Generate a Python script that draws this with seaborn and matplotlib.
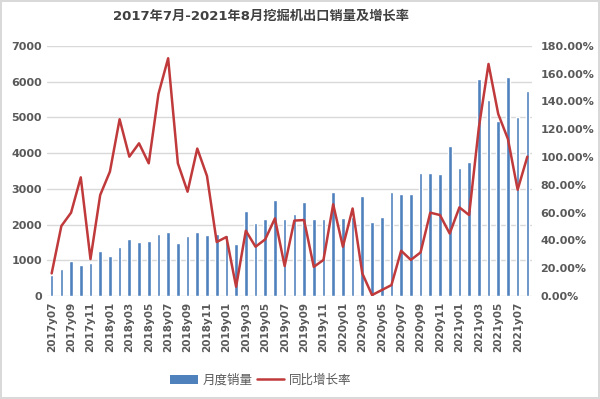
import matplotlib
matplotlib.use('Agg')
import matplotlib.pyplot as plt
import matplotlib.ticker as mtick
from matplotlib.patches import Patch
from matplotlib.lines import Line2D
import numpy as np
import pandas as pd
import seaborn as sns

# Months 2017-07 .. 2021-08
months = [p.strftime('%Yy%m') for p in pd.period_range('2017-07', '2021-08', freq='M')]

# Monthly export sales (units)
sales = [600, 760, 970, 860, 920, 1270, 1120, 1380, 1610, 1510,
         1530, 1730, 1790, 1480, 1680, 1790, 1720, 1740, 1700, 1460,
         2370, 2040, 2150, 2690, 2150, 2290, 2620, 2150, 2150, 2910,
         2180, 2200, 2790, 2060, 2210, 2900, 2860, 2860, 3440, 3440,
         3410, 4210, 3580, 3750, 6060, 5480, 4900, 6130, 5010, 5730]

# Year-on-year growth (%)
growth = [16.3, 50.4, 60.0, 85.4, 26.6, 72.7, 89.5, 127.2, 100.3, 109.9,
          95.5, 145.4, 171.1, 95.5, 75.1, 106.1, 86.4, 38.9, 42.5, 6.7,
          47.0, 35.5, 40.8, 55.9, 21.6, 54.3, 54.7, 21.0, 26.0, 66.0,
          35.5, 63.0, 16.3, 0.7, 4.3, 7.9, 32.6, 26.0, 31.4, 60.0,
          58.3, 45.0, 63.8, 58.3, 121.0, 167.0, 131.0, 113.0, 76.5, 100.3]

df = pd.DataFrame({'month': months, 'sales': sales, 'growth': np.array(growth) / 100})
df['pos'] = np.arange(len(df))

sns.set_style('white')
plt.rcParams['font.family'] = ['DejaVu Sans', 'Noto Sans CJK SC']

bar_color = '#4F81BD'
line_color = '#C0393B'
text_color = '#595959'

fig = plt.figure(figsize=(6, 3.99), dpi=100, edgecolor='#d9d9d9', linewidth=1.5)
ax = fig.add_subplot(111)
fig.subplots_adjust(left=0.078, right=0.887, top=0.885, bottom=0.258)

sns.barplot(data=df, x='month', y='sales', color=bar_color, width=0.38,
            saturation=1, ax=ax, zorder=2)
ax.set_ylim(0, 7000)
ax.set_yticks(range(0, 7001, 1000))
ax.yaxis.grid(True, color='#d9d9d9', linewidth=1)
ax.set_axisbelow(True)
ax.set_xlim(-0.5, len(df) - 0.5)
ax.set_xlabel('')
ax.set_ylabel('')
ax.set_xticks(df['pos'][::2])
ax.set_xticklabels(df['month'][::2], rotation=90)
ax.tick_params(axis='both', length=0, colors=text_color, labelsize=8)
ax.tick_params(axis='x', labelsize=7.5, pad=4)
for lbl in ax.get_xticklabels() + ax.get_yticklabels():
    lbl.set_fontweight('bold')

ax2 = ax.twinx()
sns.lineplot(data=df, x='pos', y='growth', color=line_color, linewidth=1.8, ax=ax2)
ax2.set_ylim(0, 1.8)
ax2.set_yticks(np.arange(0, 1.81, 0.2))
ax2.yaxis.set_major_formatter(mtick.PercentFormatter(xmax=1, decimals=2))
ax2.set_xlim(-0.5, len(df) - 0.5)
ax2.set_ylabel('')
ax2.set_xlabel('')
ax2.tick_params(axis='y', length=0, colors=text_color, labelsize=8, pad=6)
for lbl in ax2.get_yticklabels():
    lbl.set_fontweight('bold')

for a in (ax, ax2):
    for s in a.spines.values():
        s.set_visible(False)

fig.text(0.435, 1 - 16 / 399, '2017年7月-2021年8月挖掘机出口销量及增长率',
         ha='center', va='center', fontsize=9.5, fontweight='bold', color='#404040',
         family=['DejaVu Sans', 'Noto Sans CJK SC'])

handles = [Patch(facecolor=bar_color, edgecolor='none'),
           Line2D([0], [0], color=line_color, linewidth=1.8)]
leg = fig.legend(handles, ['月度销量', '同比增长率'], loc='center',
                 bbox_to_anchor=(0.435, 1 - 380 / 399), ncol=2, frameon=False,
                 prop={'family': ['Noto Sans CJK SC'], 'size': 9},
                 handlelength=2.2, columnspacing=0.3, handletextpad=0.4)
for t in leg.get_texts():
    t.set_color(text_color)

fig.savefig('out.png', dpi=100)
